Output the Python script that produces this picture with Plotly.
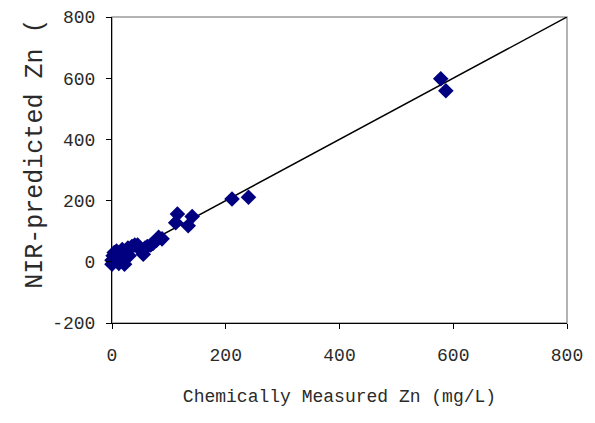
import plotly.graph_objects as go

# Chemically measured Zn (mg/L) vs NIR-predicted Zn
measured = [0, 0, 2, 4, 8, 10, 12, 15, 18, 20, 22, 25, 28, 30, 35, 40, 45, 52, 55, 58,
            62, 68, 72, 78, 82, 88, 112, 115, 134, 141, 211, 240, 578, 587]
predicted = [-8, 5, 20, 30, 35, 10, -5, 25, 40, 30, -8, 15, 45, 20, 50, 55, 55, 35, 25, 45,
             50, 55, 60, 70, 80, 75, 128, 156, 118, 148, 205, 211, 598, 559]

line_x = [0, 800]
line_y = [0, 800]

x_ticks = [0, 200, 400, 600, 800]
y_ticks = [-200, 0, 200, 400, 600, 800]

FONT = "Liberation Mono"
TXT = "#2a2a2a"

fig = go.Figure()
fig.add_trace(go.Scatter(x=line_x, y=line_y, mode="lines",
                         line=dict(color="black", width=1.5), showlegend=False))
fig.add_trace(go.Scatter(x=measured, y=predicted, mode="markers",
                         marker=dict(symbol="diamond", size=12, color="#000080",
                                     line=dict(width=0)),
                         cliponaxis=False, showlegend=False))

fig.add_shape(type="rect", xref="paper", yref="paper", x0=0, x1=1, y0=0, y1=1,
              line=dict(color="#9a9a9a", width=1.5), layer="below")

fig.update_layout(
    width=587, height=415,
    margin=dict(l=104, r=28, t=9, b=100, autoexpand=False),
    paper_bgcolor="white", plot_bgcolor="white",
    font=dict(family=FONT, size=18, color=TXT),
    xaxis=dict(range=[0, 800], tickvals=x_ticks, ticktext=[str(v) for v in x_ticks],
               showgrid=False, zeroline=False, showline=True, linecolor="black",
               linewidth=1, ticks="outside", ticklen=5, tickcolor="black",
               ticklabelstandoff=10, automargin=False,
               title=dict(text="Chemically Measured Zn (mg/L)",
                          font=dict(family=FONT, size=18, color=TXT), standoff=24)),
    yaxis=dict(range=[-200, 800], tickvals=y_ticks, ticktext=[str(v) for v in y_ticks],
               showgrid=False, zeroline=False, showline=True, linecolor="black",
               linewidth=1, ticks="outside", ticklen=5, tickcolor="black",
               ticklabelstandoff=7, automargin=False),
    annotations=[dict(text="NIR-predicted Zn (", xref="paper", yref="paper",
                      x=-0.17, y=1.0, xanchor="center", yanchor="top",
                      textangle=-90, showarrow=False,
                      font=dict(family=FONT, size=25, color=TXT))],
)

fig.write_html("out.html")
